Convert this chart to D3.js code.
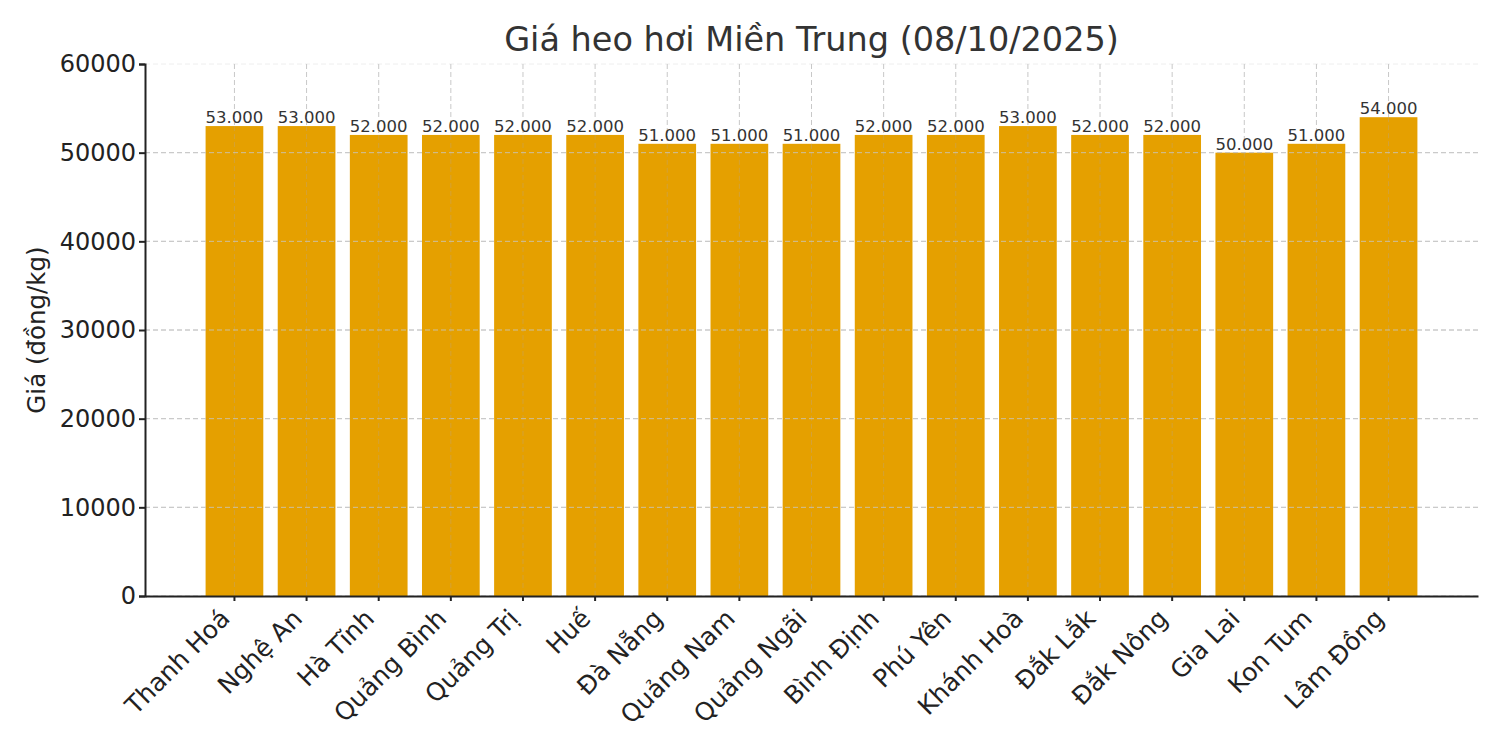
<!DOCTYPE html>
<html><head><meta charset="utf-8">
<script src="https://cdn.jsdelivr.net/npm/d3@7"></script>
<style>body{margin:0;background:#fff}svg{display:block}text{font-family:"DejaVu Sans",sans-serif}</style>
</head><body>
<svg id="c" width="1500" height="750"></svg>
<script>
const categories = ["Thanh Hoá","Nghệ An","Hà Tĩnh","Quảng Bình","Quảng Trị","Huế","Đà Nẵng","Quảng Nam","Quảng Ngãi","Bình Định","Phú Yên","Khánh Hoà","Đắk Lắk","Đắk Nông","Gia Lai","Kon Tum","Lâm Đồng"];
const prices = [53000,53000,52000,52000,52000,52000,51000,51000,51000,52000,52000,53000,52000,52000,50000,51000,54000];
const yTicks = [0,10000,20000,30000,40000,50000,60000];
const title = "Giá heo hơi Miền Trung (08/10/2025)";
const yLabel = "Giá (đồng/kg)";

const svg = d3.select("#c");
const L = 145, R = 1478, T = 64, B = 596;
const x = d3.scaleBand().domain(categories).range([L, R]).paddingInner(0.2).paddingOuter(0.84);
const y = d3.scaleLinear().domain([0, 60000]).range([B, T]);
const fmt = v => d3.format(",")(v).replace(/,/g, ".");

// grid
const g = svg.append("g");
g.selectAll("line.h").data(yTicks).join("line")
  .attr("x1", L).attr("x2", R).attr("y1", d => y(d)).attr("y2", d => y(d))
  .attr("stroke", d => d === 60000 ? "#eeeeee" : "#c8c8c8").attr("stroke-width", 1).attr("stroke-dasharray", "5,3");
g.selectAll("line.v").data(categories).join("line")
  .attr("x1", d => x(d) + x.bandwidth()/2).attr("x2", d => x(d) + x.bandwidth()/2)
  .attr("y1", T).attr("y2", B)
  .attr("stroke", "#c8c8c8").attr("stroke-width", 1).attr("stroke-dasharray", "5,3");

// bars
svg.append("g").selectAll("rect").data(categories).join("rect")
  .attr("x", d => x(d)).attr("width", x.bandwidth())
  .attr("y", (d,i) => y(prices[i])).attr("height", (d,i) => B - y(prices[i]))
  .attr("fill", "#E5A000");

// grid visible over bars
svg.append("g").selectAll("line").data(categories).join("line")
  .attr("x1", d => x(d) + x.bandwidth()/2).attr("x2", d => x(d) + x.bandwidth()/2)
  .attr("y1", (d,i) => y(prices[i])).attr("y2", B)
  .attr("stroke", "#c9a35a").attr("stroke-width", 1).attr("stroke-dasharray", "5,3").attr("opacity", 0.6);
svg.append("g").selectAll("line").data(yTicks.filter(t => t > 0 && t < 60000)).join("line")
  .attr("x1", L).attr("x2", R).attr("y1", d => y(d)).attr("y2", d => y(d))
  .attr("stroke", "#c8c8c8").attr("stroke-width", 1).attr("stroke-dasharray", "5,3").attr("opacity", 0.8);

// value labels
svg.append("g").selectAll("text").data(categories).join("text")
  .attr("x", d => x(d) + x.bandwidth()/2).attr("y", (d,i) => y(prices[i]) - 3)
  .attr("text-anchor", "middle").attr("font-size", 16.5).attr("fill", "#333")
  .text((d,i) => fmt(prices[i]));

// axes
const yAxis = svg.append("g").attr("transform", `translate(${L},0)`)
  .call(d3.axisLeft(y).tickValues(yTicks).tickSize(6).tickPadding(3).tickFormat(d3.format("d")));
yAxis.select(".domain").attr("stroke", "#222").attr("stroke-width", 2);
yAxis.selectAll(".tick line").attr("stroke", "#222").attr("stroke-width", 2);
yAxis.selectAll("text").attr("font-size", 24).attr("fill", "#222").attr("font-family", "DejaVu Sans");

const xAxis = svg.append("g").attr("transform", `translate(0,${B})`)
  .call(d3.axisBottom(x).tickSize(5).tickPadding(4).tickSizeOuter(0));
xAxis.select(".domain").attr("stroke", "#222").attr("stroke-width", 2);
xAxis.selectAll(".tick line").attr("stroke", "#222").attr("stroke-width", 2);
xAxis.selectAll("text").attr("font-size", 25).attr("fill", "#222").attr("font-family", "DejaVu Sans")
  .attr("text-anchor", "end").attr("dy", null).attr("transform", "translate(-16,11) rotate(-45)").attr("y", 0).attr("x", 0)
  .attr("dominant-baseline", "hanging");

// y label
svg.append("text").attr("transform", `translate(45,${(T+B)/2}) rotate(-90)`)
  .attr("text-anchor", "middle").attr("font-size", 24.5).attr("fill", "#222").text(yLabel);

// title
svg.append("text").attr("x", (L+R)/2).attr("y", 51).attr("text-anchor", "middle")
  .attr("font-size", 33.5).attr("fill", "#333").text(title);
</script>
</body></html>
